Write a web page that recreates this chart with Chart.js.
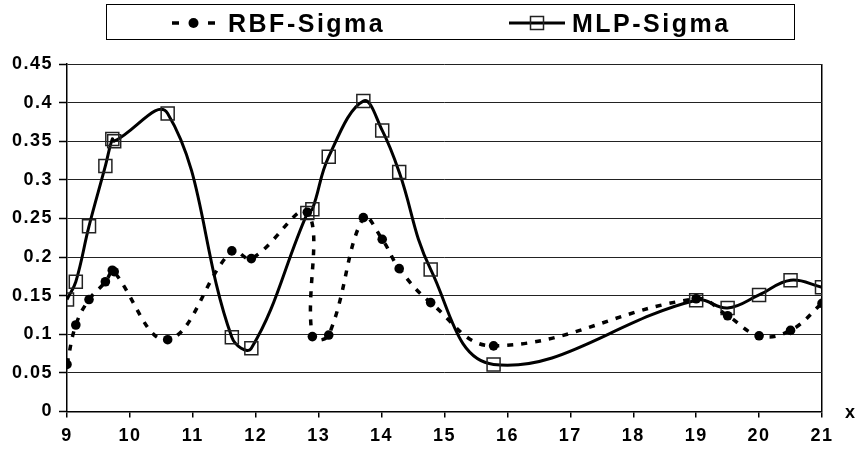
<!DOCTYPE html>
<html>
<head>
<meta charset="utf-8">
<style>
  html, body { margin: 0; padding: 0; background: #fff; overflow: hidden; }
  canvas { display: block; }
</style>
<script src="https://cdn.jsdelivr.net/npm/chart.js@4.4.1/dist/chart.umd.min.js"></script>
</head>
<body>
<canvas id="c" width="855" height="449"></canvas>
<script>
// Sample positions shared by both series
const xValues = [9.0, 9.14, 9.35, 9.61, 9.72, 9.75, 10.6, 11.62, 11.93, 12.82, 12.9, 13.16, 13.71, 14.01, 14.28, 14.78, 15.78, 19, 19.5, 20, 20.5, 21];
// Sigma estimates per model
const rbfSigma = [0.061, 0.112, 0.145, 0.168, 0.183, 0.181, 0.093, 0.208, 0.198, 0.258, 0.097, 0.099, 0.251, 0.223, 0.185, 0.141, 0.085, 0.146, 0.124, 0.098, 0.105, 0.140];
const mlpSigma = [0.145, 0.168, 0.240, 0.318, 0.353, 0.350, 0.386, 0.096, 0.082, 0.257, 0.262, 0.330, 0.402, 0.364, 0.310, 0.184, 0.061, 0.144, 0.134, 0.151, 0.170, 0.161];
const seriesNames = ['RBF-Sigma', 'MLP-Sigma'];
const xTickLabels = ['9', '10', '11', '12', '13', '14', '15', '16', '17', '18', '19', '20', '21'];
const yTickLabels = ['0', '0.05', '0.1', '0.15', '0.2', '0.25', '0.3', '0.35', '0.4', '0.45'];
const xAxisTitle = 'x';

const FAMILY = '"Liberation Sans", Arial, Helvetica, sans-serif';
const tickFont = { family: FAMILY, size: 18, weight: 'bold' };

const toPoints = ys => xValues.map((x, i) => ({ x, y: ys[i] }));

// Slightly widened lettering for all chart text
const spacing = {
  id: 'spacing',
  beforeUpdate(chart) { chart.ctx.letterSpacing = '1.5px'; },
  beforeDraw(chart) { chart.ctx.letterSpacing = '1.5px'; }
};

// Framed legend above the plot
const framedLegend = {
  id: 'framedLegend',
  afterDraw(chart) {
    const ctx = chart.ctx;
    const ds = chart.data.datasets;
    const midY = 23;
    ctx.save();
    ctx.strokeStyle = '#000';
    ctx.lineWidth = 1;
    ctx.strokeRect(106.5, 4.5, 688, 35);

    // dashed line with dot
    ctx.strokeStyle = ds[0].borderColor;
    ctx.lineWidth = 3.5;
    ctx.lineCap = 'butt';
    ctx.setLineDash([7, 29]);
    ctx.beginPath();
    ctx.moveTo(172, midY);
    ctx.lineTo(216, midY);
    ctx.stroke();
    ctx.setLineDash([]);
    ctx.fillStyle = ds[0].pointBackgroundColor;
    ctx.beginPath();
    ctx.arc(193.5, midY, 5, 0, Math.PI * 2);
    ctx.fill();

    // solid line with square
    ctx.strokeStyle = ds[1].borderColor;
    ctx.lineWidth = 3;
    ctx.beginPath();
    ctx.moveTo(509, midY);
    ctx.lineTo(565, midY);
    ctx.stroke();
    ctx.strokeStyle = ds[1].pointBorderColor;
    ctx.lineWidth = 1.5;
    ctx.strokeRect(530.5, midY - 6.5, 13, 13);

    ctx.letterSpacing = '2.5px';
    ctx.font = 'bold 25px ' + FAMILY;
    ctx.fillStyle = '#000';
    ctx.textBaseline = 'alphabetic';
    ctx.textAlign = 'left';
    ctx.fillText(ds[0].label, 228, 32);
    ctx.fillText(ds[1].label, 572, 32);
    ctx.restore();
  }
};

// Axis name placed at the right end of the x axis
const xTitle = {
  id: 'xTitle',
  afterDraw(chart) {
    const ctx = chart.ctx;
    const y0 = chart.scales.y.getPixelForValue(0);
    ctx.save();
    ctx.font = 'bold 18px ' + FAMILY;
    ctx.fillStyle = '#000';
    ctx.textAlign = 'left';
    ctx.textBaseline = 'alphabetic';
    ctx.fillText(xAxisTitle, chart.chartArea.right + 23, y0 + 6.5);
    ctx.restore();
  }
};

new Chart(document.getElementById('c'), {
  type: 'line',
  data: {
    datasets: [
      {
        label: seriesNames[0],
        data: toPoints(rbfSigma),
        borderColor: '#000',
        borderWidth: 3.5,
        borderDash: [6, 8],
        borderCapStyle: 'butt',
        tension: 0.4,
        fill: false,
        pointStyle: 'circle',
        pointRadius: 4.8,
        pointBackgroundColor: '#000',
        pointBorderColor: '#000',
        pointBorderWidth: 0
      },
      {
        label: seriesNames[1],
        data: toPoints(mlpSigma),
        borderColor: '#000',
        borderWidth: 3,
        tension: 0.4,
        fill: false,
        pointStyle: 'rect',
        pointRadius: 9.2,
        pointBackgroundColor: 'rgba(0,0,0,0)',
        pointBorderColor: '#222',
        pointBorderWidth: 1.5
      }
    ]
  },
  options: {
    responsive: false,
    animation: false,
    events: [],
    layout: { padding: { top: 64, right: 33, left: 0, bottom: 0 } },
    plugins: { legend: { display: false }, tooltip: { enabled: false } },
    scales: {
      x: {
        type: 'linear',
        min: 9,
        max: 21,
        afterFit(s) { s.height = 37.5; },
        ticks: {
          stepSize: 1,
          autoSkip: false,
          maxRotation: 0,
          padding: 8,
          color: '#000',
          font: tickFont,
          callback: (v, i) => xTickLabels[i]
        },
        grid: {
          color: c => (c.tick && c.tick.value === 21 ? '#000' : 'rgba(0,0,0,0)'),
          lineWidth: 1.5,
          tickLength: 6,
          tickColor: '#000',
          tickWidth: 1.5
        },
        border: { color: '#000', width: 1.5 }
      },
      y: {
        min: 0,
        max: 0.45,
        afterFit(s) { s.width = 67; },
        ticks: {
          stepSize: 0.05,
          padding: 6,
          color: '#000',
          font: tickFont,
          callback: (v, i) => yTickLabels[i]
        },
        grid: {
          color: '#222',
          lineWidth: 1,
          tickLength: 8,
          tickColor: '#000',
          tickWidth: 1.5
        },
        border: { color: '#000', width: 1.5 }
      }
    }
  },
  plugins: [spacing, framedLegend, xTitle]
});
</script>
</body>
</html>
